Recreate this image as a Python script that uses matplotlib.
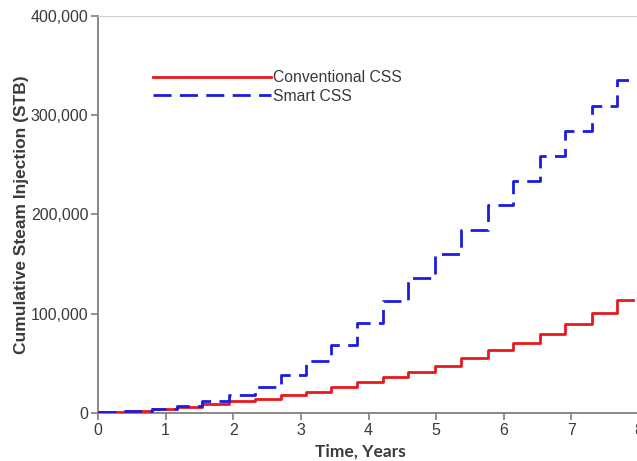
import matplotlib.pyplot as plt
from matplotlib.ticker import FuncFormatter

# jump times (years), with the level reached after each jump
years = [0.0, 0.40, 0.80, 1.17, 1.54, 1.93, 2.32, 2.70, 3.08, 3.45, 3.83,
         4.21, 4.59, 4.98, 5.37, 5.76, 6.14, 6.53, 6.91, 7.30, 7.68, 7.91]

conventional = [1000, 2000, 4400, 6000, 9000, 12400, 14500, 18000, 21000, 26500, 31000,
                36500, 41800, 47500, 55000, 63000, 71000, 79600, 89300, 101000, 113800, 113800]

smart = [1000, 2000, 4400, 7400, 12500, 18500, 26500, 38000, 52500, 69000, 91000,
         113000, 136500, 160300, 184400, 209600, 234000, 259300, 284500, 309700, 335500, 335500]

x_ticks = [0, 1, 2, 3, 4, 5, 6, 7, 8]
y_ticks = [0, 100000, 200000, 300000, 400000]


def main():
    fig = plt.figure(figsize=(6.37, 4.61), dpi=100)
    ax = fig.add_axes([98 / 637, 48 / 461, 541 / 637, 397 / 461])

    ax.plot(years, conventional, drawstyle="steps-post", color="#e8191e",
            lw=2.0, label="Conventional CSS", zorder=3)
    ax.plot(years, smart, drawstyle="steps-post", color="#1c1ce0",
            lw=2.0, dashes=(6.5, 3), label="Smart CSS", zorder=3)

    ax.set_xlim(0, 8)
    ax.set_ylim(0, 400000)
    ax.set_xticks(x_ticks)
    ax.set_yticks(y_ticks)
    ax.yaxis.set_major_formatter(FuncFormatter(lambda v, p: f"{int(v):,}"))

    for side in ["left", "bottom"]:
        ax.spines[side].set_color("#7f7f7f")
        ax.spines[side].set_linewidth(1.3)
    ax.spines["top"].set_color("#cfcfcf")
    ax.spines["right"].set_visible(False)

    ax.tick_params(direction="out", length=5, width=1.2, color="#7f7f7f",
                   labelsize=11.5, labelcolor="#3a3a3a", pad=2)

    ax.set_xlabel("Time, Years", family=["Lato", "DejaVu Sans"], fontweight="bold",
                  fontsize=12.5, color="#3a3a3a")
    ax.xaxis.set_label_coords(3.88 / 8, -0.078)
    ax.set_ylabel("Cumulative Steam Injection (STB)", fontweight="bold",
                  fontsize=12.5, color="#3a3a3a")
    ax.yaxis.set_label_coords(-0.127, 0.5)

    ax.legend(loc="upper left", bbox_to_anchor=(0.102, 0.863), frameon=False,
              borderpad=0, borderaxespad=0, handlelength=7.5, handletextpad=0.15,
              labelspacing=0.2, fontsize=11.3, labelcolor="#3a3a3a")

    fig.savefig("out.png", dpi=100)


if __name__ == "__main__":
    plt.rcParams["font.family"] = ["Liberation Sans", "DejaVu Sans"]
    main()
